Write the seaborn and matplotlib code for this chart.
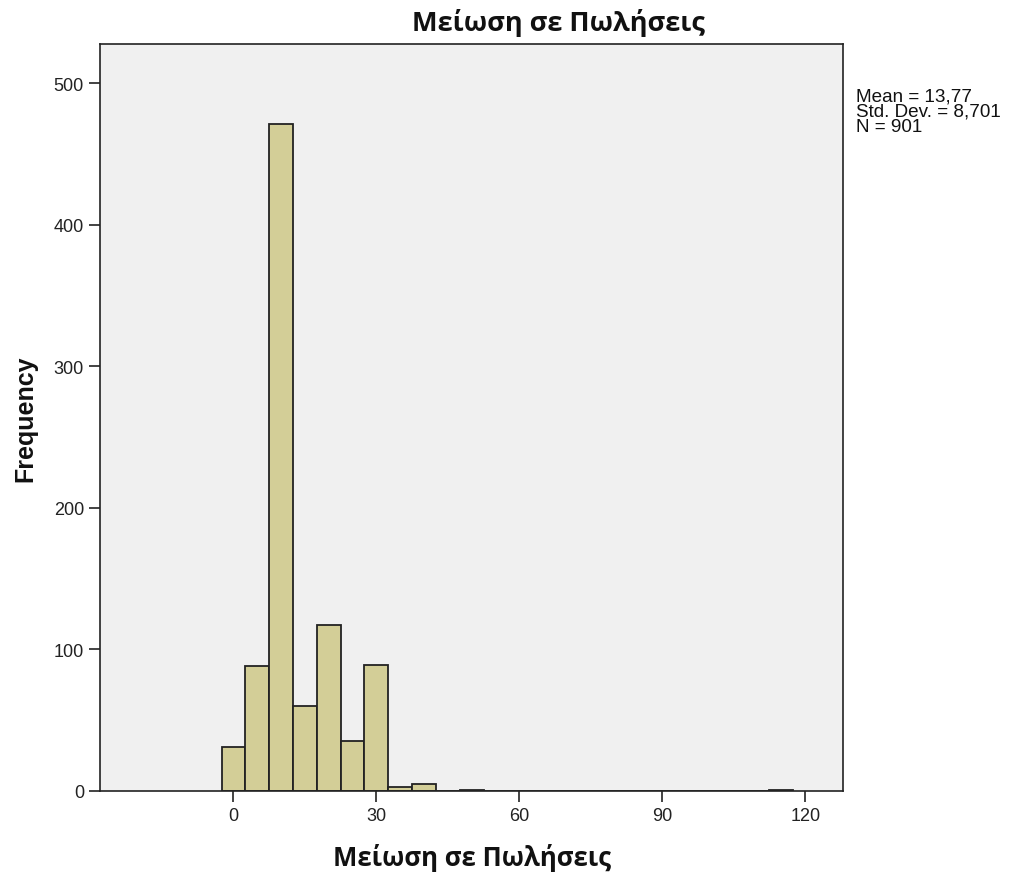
import matplotlib
matplotlib.use("Agg")
import matplotlib.pyplot as plt
import pandas as pd
import seaborn as sns

# Bin centres (width 5) and counts
bin_centers = [0, 5, 10, 15, 20, 25, 30, 35, 40, 50, 115]
counts = [31, 88, 471, 60, 117, 35, 89, 3, 5, 1, 1]
x_ticks = [0, 30, 60, 90, 120]
y_ticks = [0, 100, 200, 300, 400, 500]

title = "Μείωση σε Πωλήσεις"
x_label = "Μείωση σε Πωλήσεις"
y_label = "Frequency"
stats_text = "Mean = 13,77\nStd. Dev. = 8,701\nN = 901"

df = pd.DataFrame({"value": bin_centers, "count": counts})

sns.set_style("ticks")
plt.rcParams["font.family"] = ["Liberation Sans", "DejaVu Sans"]

fig = plt.figure(figsize=(10.10, 8.79), dpi=100)
ax = fig.add_axes([0.099, 0.099, 0.736, 0.850])
ax.set_facecolor("#F0F0F0")

sns.histplot(data=df, x="value", weights="count", binwidth=5, binrange=(-2.5, 117.5),
             color="#D3CE97", edgecolor="#222222", linewidth=1.3, alpha=1, ax=ax)

ax.set_xlim(-28, 128)
ax.set_ylim(0, 528)
ax.set_xticks(x_ticks)
ax.set_yticks(y_ticks)
ax.tick_params(axis="both", length=8, width=1.2, labelsize=13, colors="#222222")

for side in ["top", "right", "left", "bottom"]:
    ax.spines[side].set_visible(True)
    ax.spines[side].set_color("#222222")
    ax.spines[side].set_linewidth(1.2)

# Greek title / x label look like Segoe UI -> Open Sans bold
greek = ["Open Sans", "DejaVu Sans"]
fig.text(558 / 1010, 1 - 31 / 879, title, fontsize=19.5, fontweight="bold",
         family=greek, ha="center", va="baseline", color="#111111")
ax.set_xlabel(x_label, fontsize=18.5, fontweight="bold", family=greek, labelpad=14,
              color="#111111")
ax.set_ylabel(y_label, fontsize=18, fontweight="bold", labelpad=12, color="#111111")

fig.text(0.848, 0.899, stats_text, fontsize=13.6, va="top", ha="left",
         linespacing=0.85, color="#111111")

fig.savefig("out.png", dpi=100)
